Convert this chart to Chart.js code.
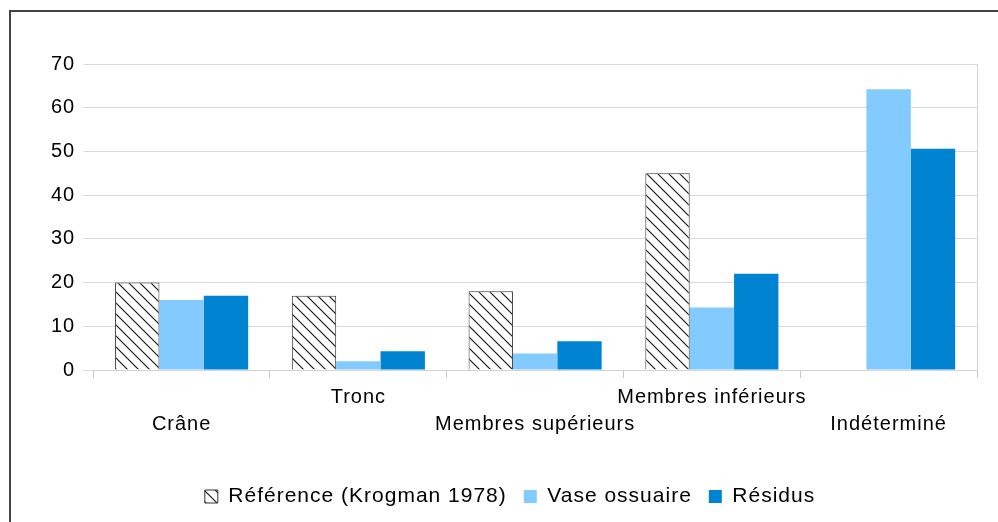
<!DOCTYPE html>
<html>
<head>
<meta charset="utf-8">
<script src="https://cdn.jsdelivr.net/npm/chart.js@4.4.1/dist/chart.umd.min.js"></script>
<style>
	body { margin: 0; background: #fff; }
	#wrap { position: relative; width: 998px; height: 522px; overflow: hidden; }
	#frame { position: absolute; left: 9px; top: 10px; right: -5px; bottom: -5px; border-top: 2px solid #444; border-left: 2px solid #444; pointer-events: none; }
</style>
</head>
<body>
<div id="wrap">
	<canvas id="boneChart" width="998" height="522"></canvas>
	<div id="frame"></div>
</div>
<script>
// categories and values (%)
var categories = ['Crâne', 'Tronc', 'Membres supérieurs', 'Membres inférieurs', 'Indéterminé'];
var referenceValues = [20, 17, 18, 45, null];
var vaseValues = [16, 2, 3.8, 14.3, 64.2];
var residusValues = [17, 4.3, 6.6, 22, 50.6];
var yTicks = [0, 10, 20, 30, 40, 50, 60, 70];

var seriesNames = ['Référence (Krogman 1978)', 'Vase ossuaire', 'Résidus'];

// labels alternate between two rows like the original
var staggeredLabels = categories.map(function(c, i){
	return (i % 2 == 1) ? [c, ''] : ['', c];
});

// hatch pattern for the reference series
function make_hatch(){
	var size = 11;
	var p = document.createElement('canvas');
	p.width = size;
	p.height = size;
	var pc = p.getContext('2d');
	pc.fillStyle = '#fff';
	pc.fillRect(0, 0, size, size);
	pc.strokeStyle = '#111';
	pc.lineWidth = 1.1;
	pc.beginPath();
	pc.moveTo(-1, -1);
	pc.lineTo(size + 1, size + 1);
	pc.moveTo(-1, size - 1);
	pc.lineTo(1, size + 1);
	pc.moveTo(size - 1, -1);
	pc.lineTo(size + 1, 1);
	pc.stroke();
	return pc.createPattern(p, 'repeat');
}

var spacingPlugin = {
	id: 'spacing',
	beforeUpdate: function(chart){ chart.ctx.letterSpacing = '1px'; },
	beforeDraw: function(chart){ chart.ctx.letterSpacing = '1px'; }
};

// thin line on the right side of the plot area
var rightEdge = {
	id: 'rightEdge',
	beforeDatasetsDraw: function(chart){
		var a = chart.chartArea;
		var c = chart.ctx;
		c.save();
		c.strokeStyle = '#d4d4d4';
		c.lineWidth = 1;
		c.beginPath();
		c.moveTo(a.right + 0.5, a.top);
		c.lineTo(a.right + 0.5, a.bottom);
		c.stroke();
		c.restore();
	}
};

var ctx = document.getElementById('boneChart').getContext('2d');
var chart = new Chart(ctx, {
	type: 'bar',
	data: {
		labels: staggeredLabels,
		datasets: [{
			label: seriesNames[0],
			data: referenceValues,
			backgroundColor: make_hatch(),
			borderColor: '#333',
			borderWidth: 1
		}, {
			label: seriesNames[1],
			data: vaseValues,
			backgroundColor: '#83caff',
			borderWidth: 0
		}, {
			label: seriesNames[2],
			data: residusValues,
			backgroundColor: '#0084d1',
			borderWidth: 0
		}]
	},
	options: {
		responsive: false,
		animation: false,
		devicePixelRatio: 1,
		layout: {
			padding: { left: 43, right: 21, top: 64, bottom: 5 }
		},
		datasets: {
			bar: { categoryPercentage: 0.753, barPercentage: 1 }
		},
		scales: {
			x: {
				grid: { display: true, drawOnChartArea: false, drawTicks: true, tickLength: 8, color: '#c8c8c8', offset: true },
				border: { display: true, color: '#d4d4d4' },
				ticks: {
					color: '#000',
					padding: 6,
					maxRotation: 0,
					autoSkip: false,
					font: { family: 'Liberation Sans', size: 20, lineHeight: '27px' }
				},
				// extra room between the labels and the legend
				afterFit: function(axis){
					axis.height += 25;
				}
			},
			y: {
				min: 0,
				max: 70,
				afterBuildTicks: function(axis){
					axis.ticks = yTicks.map(function(v){ return { value: v }; });
				},
				grid: { color: '#d9d9d9', drawTicks: true, tickLength: 10 },
				border: { display: false },
				ticks: {
					color: '#000',
					padding: 8,
					font: { family: 'Liberation Sans', size: 20 }
				}
			}
		},
		plugins: {
			legend: {
				position: 'bottom',
				labels: {
					color: '#000',
					boxWidth: 13,
					boxHeight: 13,
					padding: 17,
					font: { family: 'Liberation Sans', size: 21 }
				}
			},
			tooltip: { enabled: false }
		}
	},
	plugins: [spacingPlugin, rightEdge]
});
</script>
</body>
</html>
